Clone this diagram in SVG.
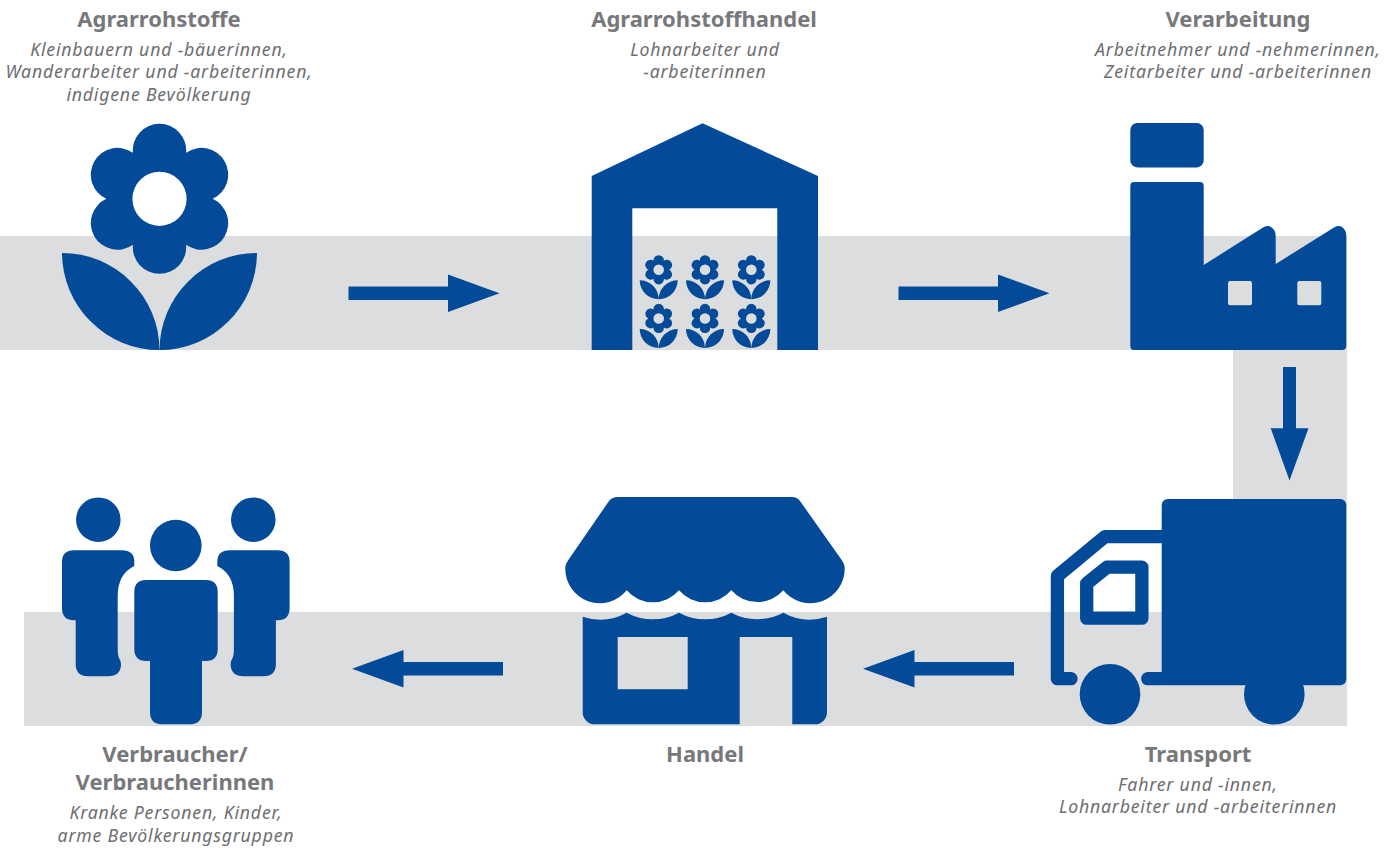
<svg xmlns="http://www.w3.org/2000/svg" width="1397" height="848" viewBox="0 0 1397 848">
<style>
.band{fill:#dcddde}
.i{fill:#034b98}
.ln{fill:none;stroke:#034b98;stroke-width:13.3;stroke-linecap:round;stroke-linejoin:round}
.t{font-family:"Noto Sans","Open Sans","Liberation Sans",sans-serif;font-size:22px;font-weight:700;fill:#77787b;text-anchor:middle}
.s{font-family:"Noto Sans","Open Sans","Liberation Sans",sans-serif;font-size:17.7px;font-style:italic;letter-spacing:.8px;fill:#6d6e71;text-anchor:middle}
</style>
<defs>
<g id="flower" class="i">
<path fill-rule="evenodd" d="M212.7 198.8A26.7 26.7 0 1 1 186.1 244.85A26.7 26.7 0 1 1 132.9 244.85A26.7 26.7 0 1 1 106.3 198.8A26.7 26.7 0 1 1 132.9 152.75A26.7 26.7 0 1 1 186.1 152.75A26.7 26.7 0 1 1 212.7 198.8ZM186.6 198.8A27.1 27.1 0 1 0 132.4 198.8A27.1 27.1 0 1 0 186.6 198.8Z"/>
<path d="M62 253A97.5 97.5 0 0 1 159.5 350A97.5 97.5 0 0 1 62 253Z"/>
<path d="M257 253A97.5 97.5 0 0 0 159.5 350A97.5 97.5 0 0 0 257 253Z"/>
</g>
<path id="person" d="M72 550.3H122Q134.3 550.3 134.3 562V566Q117.7 574 117.7 596V650Q117.7 656 119.5 659Q121 661 121 664Q121 676.3 108 676.3H88Q75.7 676.3 75.7 664V620.3H74Q62 620.3 62 608V562Q62 550.3 74 550.3Z"/>
</defs>
<g id="bands" class="band">
<rect x="0" y="236" width="1347" height="114"/>
<rect x="1233" y="350" width="114" height="376"/>
<rect x="24" y="612" width="1323" height="114"/>
</g>
<g id="connectors" class="i">
<path d="M348.500 286.500H448V274.500L499.500 293.300L448 312V300H348.500Z"/>
<path d="M898.500 286.500H998V274.500L1049.500 293.300L998 312V300H898.500Z"/>
<path d="M1283 367H1296V428.300H1308.500L1289.500 480.500L1270.700 428.300H1283Z"/>
<path d="M1014 662H914.500V650L863 668.700L914.500 687.500V675.500H1014Z"/>
<path d="M503 662H403.500V650L352 668.700L403.500 687.500V675.500H503Z"/>
</g>
<g id="node-agrarrohstoffe">
<use href="#flower"/>
<text class="t" x="159" y="27">Agrarrohstoffe</text>
<text class="s" x="159" y="56">Kleinbauern und -bäuerinnen,</text>
<text class="s" x="159" y="78">Wanderarbeiter und -arbeiterinnen,</text>
<text class="s" x="159" y="101">indigene Bevölkerung</text>
</g>
<g id="node-agrarrohstoffhandel">
<path class="i" d="M702.500 123.300L818 176V350H777.300V208.300H632.300V350H591.700V176Z"/>
<g>
<use href="#flower" transform="translate(627.600 231) scale(.195)"/>
<use href="#flower" transform="translate(673.900 231) scale(.195)"/>
<use href="#flower" transform="translate(720.200 231) scale(.195)"/>
<use href="#flower" transform="translate(627.600 279.700) scale(.195)"/>
<use href="#flower" transform="translate(673.900 279.700) scale(.195)"/>
<use href="#flower" transform="translate(720.200 279.700) scale(.195)"/>
</g>
<text class="t" x="704" y="27">Agrarrohstoffhandel</text>
<text class="s" x="705" y="56">Lohnarbeiter und</text>
<text class="s" x="705" y="78">-arbeiterinnen</text>
</g>
<g id="node-verarbeitung">
<rect class="i" x="1130.300" y="123" width="73.400" height="44.400" rx="7"/>
<path class="i" fill-rule="evenodd" d="M1134 182H1200Q1203.700 182 1203.700 186V265L1263 227.500Q1268 225 1271 227Q1275.700 230 1275.700 236V264L1334 227.500Q1339 225 1342 227Q1346.300 230 1346.300 236V346Q1346.300 350 1342 350H1134Q1130.300 350 1130.300 346V186Q1130.300 182 1134 182ZM1230 281H1250Q1252 281 1252 283V303.300Q1252 305.300 1250 305.300H1230Q1228 305.300 1228 303.300V283Q1228 281 1230 281ZM1299.300 281H1319.300Q1321.300 281 1321.300 283V303.300Q1321.300 305.300 1319.300 305.300H1299.300Q1297.300 305.300 1297.300 303.300V283Q1297.300 281 1299.300 281Z"/>
<text class="t" x="1238" y="27">Verarbeitung</text>
<text class="s" x="1238" y="56">Arbeitnehmer und -nehmerinnen,</text>
<text class="s" x="1238" y="78">Zeitarbeiter und -arbeiterinnen</text>
</g>
<g id="node-transport">
<rect class="i" x="1161.700" y="499" width="184.600" height="186.300" rx="6"/>
<path class="ln" d="M1165 536.700H1105L1057.400 576V678.700H1071"/>
<path class="ln" d="M1147.700 678.700H1165"/>
<path class="ln" d="M1107 567.200H1141.900V618.200H1086.700V583.500Z"/>
<circle class="i" cx="1110" cy="694.200" r="30.300"/>
<circle class="i" cx="1274.300" cy="694.200" r="30.300"/>
<text class="t" x="1198" y="762">Transport</text>
<text class="s" x="1198" y="791">Fahrer und -innen,</text>
<text class="s" x="1198" y="813">Lohnarbeiter und -arbeiterinnen</text>
</g>
<g id="node-handel">
<path class="i" d="M618 497H792Q797 497 800 501L841 559Q844.700 564 844.700 568A34.500 34.500 0 0 1 783.300 590.300A34.500 34.500 0 0 1 731.300 590.300A34.500 34.500 0 0 1 679 590.300A34.500 34.500 0 0 1 626.700 590.300A34.500 34.500 0 0 1 565.300 568Q565.300 564 569 559L609 501Q612 497 618 497Z"/>
<path class="i" fill-rule="evenodd" d="M582.700 616.700A55 55 0 0 0 626.700 612.700A55 55 0 0 0 679 612.700A55 55 0 0 0 731.300 612.700A55 55 0 0 0 783.300 612.700A55 55 0 0 0 827 616.700V712A12 12 0 0 1 815 724.300H792.300V637H739.700V724.300H594.700A12 12 0 0 1 582.700 712ZM617.700 637V689.300H687.700V637Z"/>
<text class="t" x="705" y="762">Handel</text>
</g>
<g id="node-verbraucher">
<circle class="i" cx="98.300" cy="519.700" r="22.300"/>
<circle class="i" cx="253.300" cy="519.700" r="22.300"/>
<use class="i" href="#person"/>
<use class="i" href="#person" transform="translate(351.600 0) scale(-1 1)"/>
<circle class="i" cx="175.800" cy="545.500" r="25.800"/>
<path class="i" d="M146 580H206Q217.700 580 217.700 592V649Q217.700 661 206 661H202V712Q202 724.300 190 724.300H162Q150 724.300 150 712V661H146Q134.300 661 134.300 649V592Q134.300 580 146 580Z"/>
<text class="t" x="175" y="762">Verbraucher/</text>
<text class="t" x="175" y="790">Verbraucherinnen</text>
<text class="s" x="176" y="819">Kranke Personen, Kinder,</text>
<text class="s" x="176" y="842">arme Bevölkerungsgruppen</text>
</g>
</svg>
